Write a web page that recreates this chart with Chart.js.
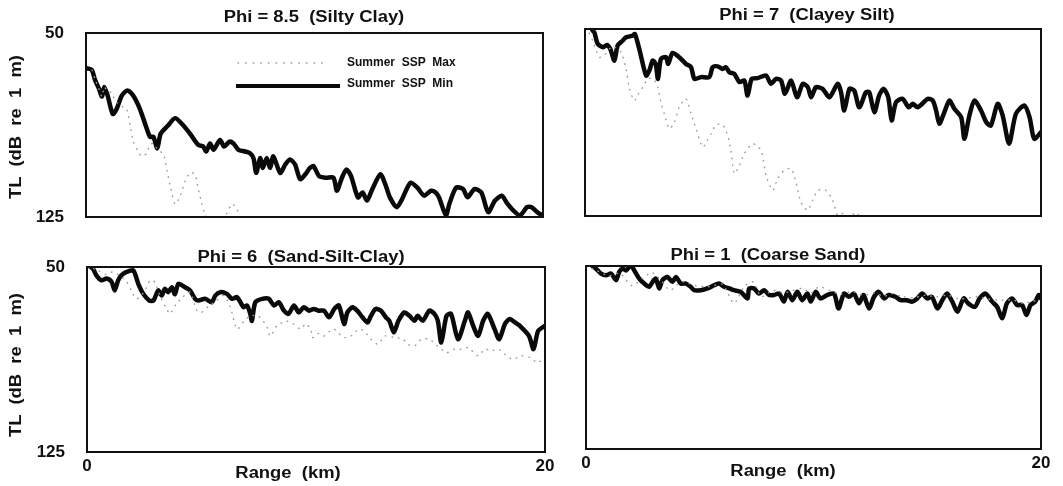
<!DOCTYPE html>
<html>
<head>
<meta charset="utf-8">
<script src="https://cdn.jsdelivr.net/npm/chart.js@4/dist/chart.umd.min.js"></script>
<style>
  body { margin: 0; background: #fff; }
  #page { position: relative; width: 1063px; height: 486px; overflow: hidden; background: #fff; }
  canvas { position: absolute; }
  .lbl {
    position: absolute; white-space: pre; color: #111;
    font: bold 16px "Liberation Sans", Arial, Helvetica, sans-serif;
    transform: translate(-50%, -50%) scaleX(1.15);
  }
  .rot { transform: translate(-50%, -50%) rotate(-90deg) scaleX(1.15); }
</style>
</head>
<body>
<div id="page">
  <canvas id="c1" width="555" height="232" style="left:0;top:0"></canvas>
  <canvas id="c2" width="503" height="232" style="left:560px;top:0"></canvas>
  <canvas id="c3" width="557" height="246" style="left:0;top:240px"></canvas>
  <canvas id="c4" width="503" height="246" style="left:560px;top:240px"></canvas>

  <div class="lbl" style="left:314px;top:17px">Phi = 8.5  (Silty Clay)</div>
  <div class="lbl" style="left:807px;top:15px">Phi = 7  (Clayey Silt)</div>
  <div class="lbl" style="left:301px;top:257px">Phi = 6  (Sand-Silt-Clay)</div>
  <div class="lbl" style="left:768px;top:255px">Phi = 1  (Coarse Sand)</div>
  <div class="lbl rot" style="left:16px;top:127px">TL  (dB  re  1  m)</div>
  <div class="lbl rot" style="left:16px;top:365px">TL  (dB  re  1  m)</div>
  <div class="lbl" style="left:288px;top:473px">Range  (km)</div>
  <div class="lbl" style="left:783px;top:471px">Range  (km)</div>
</div>
<script>
// axis limits and ticks
const rangeTicks = [0, 20];
const tlTicks = [50, 125];
const seriesNames = ["Summer  SSP  Max", "Summer  SSP  Min"];

// [range km, TL dB]
const phi85Max = [[0,64.3],[0.25,65],[0.4,69],[0.58,73],[0.7,75.9],[0.8,72],[0.95,74],[1.12,74.3],[1.27,77.6],[1.45,79],[1.64,80.3],[1.78,81],[1.93,87.6],[2.07,94.3],[2.29,98.3],[2.44,100.3],[2.66,99],[2.8,95.6],[2.95,95],[3.1,97],[3.4,99.7],[3.55,106.3],[3.7,113],[3.9,119.7],[4.1,117],[4.34,110.3],[4.55,107],[4.77,107.6],[4.9,113],[5.07,119.7],[5.2,123.6],[5.4,127],[5.7,131],[6.0,127],[6.16,123.6],[6.4,119.7],[6.6,121.7],[6.8,127],[7.1,133],[7.6,130],[8,135],[8.5,132],[9,138],[10,136],[11,140],[12,138],[13,142],[14,140],[15,144],[16,142],[17,146],[18,144],[19,147],[20,146]];
const phi85Min = [[0,64.3],[0.25,65],[0.39,69],[0.58,73],[0.7,75.9],[0.8,72],[0.95,75.6],[1.17,83],[1.34,81],[1.56,75.6],[1.81,73.4],[2.07,75.6],[2.36,81],[2.66,89],[2.8,92.3],[2.95,92.3],[3.12,97],[3.27,91],[3.6,87.6],[3.9,84.7],[4.19,87],[4.55,91],[4.91,95.6],[5.13,96.3],[5.26,98.3],[5.43,95],[5.58,97.6],[5.87,93.6],[6.04,96.3],[6.28,94.3],[6.45,95],[6.67,97.6],[6.96,98.3],[7.18,99],[7.33,101],[7.45,107],[7.62,101],[7.74,105],[7.91,101],[8.06,105],[8.2,100.3],[8.5,107],[8.72,103.6],[8.93,101.6],[9.15,103.6],[9.37,109.6],[9.6,107.6],[9.8,105],[9.96,104.3],[10.2,108.3],[10.5,109],[10.83,109],[10.98,114.3],[11.2,109],[11.4,105.6],[11.6,108.3],[11.9,117],[12.1,115],[12.3,118.3],[12.5,114.3],[12.88,107.6],[13.1,111.7],[13.3,117],[13.6,121],[13.8,118.3],[14.2,111],[14.5,113],[14.8,116.3],[15.1,114.3],[15.3,115],[15.45,117],[15.75,124.3],[15.9,119.7],[16.2,113],[16.5,113.6],[16.7,117],[17,113.6],[17.3,115],[17.6,123],[17.9,118.3],[18.2,116.3],[18.4,119],[18.7,122.3],[19,124.3],[19.3,121],[19.5,121],[19.8,123.4],[20,124.3]];

const phi7Max = [[0,44],[0.12,50],[0.35,55],[0.63,61.3],[0.9,60],[1.2,57],[1.58,59.3],[1.8,66],[1.94,73.4],[2.16,78.7],[2.35,76],[2.53,73.4],[2.75,70],[3,70],[3.19,73.4],[3.33,79.4],[3.48,84],[3.7,90],[3.92,87.4],[4.13,81.4],[4.43,78],[4.65,84],[4.87,90],[5.16,97.4],[5.35,95],[5.53,92],[5.75,88.4],[6.04,88.4],[6.26,92.7],[6.4,98.7],[6.55,108],[6.77,104.7],[6.99,100],[7.35,96],[7.72,98.7],[7.94,108.7],[8.23,114.7],[8.45,110],[8.74,106.7],[9.04,106],[9.25,111.4],[9.47,119.4],[9.77,122.7],[9.98,118.7],[10.23,114.7],[10.57,114.7],[10.86,118.7],[11.08,124.7],[11.3,124],[11.6,125.5],[11.9,123.4],[12,124.7],[12.3,128],[13,134],[14,132],[15,138],[16,136],[17,141],[18,139],[19,144],[20,142]];
const phi7Min = [[0,44],[0.1,46],[0.34,50.7],[0.41,51.3],[0.56,56],[0.8,57.3],[0.96,56.4],[1.11,58],[1.29,62.7],[1.43,56.7],[1.65,54.7],[1.8,53.3],[2.09,52.7],[2.19,52],[2.38,58],[2.68,68.7],[2.82,66.7],[2.97,62.7],[3.1,64],[3.2,70],[3.33,62],[3.55,61.3],[3.65,64],[3.84,59.6],[4.13,61.3],[4.43,64],[4.65,65.3],[4.8,70],[5.09,69.3],[5.45,69.3],[5.6,65.3],[5.82,65],[6.04,66],[6.18,65.3],[6.33,67.3],[6.55,68],[6.77,71.3],[6.99,70.7],[7.13,76.7],[7.31,70],[7.57,69.7],[7.94,68.7],[8.16,72],[8.38,70],[8.6,70.7],[8.77,76],[9.04,70.7],[9.3,77.4],[9.55,72],[9.77,73.3],[9.92,77.4],[10.13,73.3],[10.42,74],[10.72,77.4],[11.08,72],[11.23,75.4],[11.37,82.7],[11.6,74],[11.81,74.7],[12.03,81.4],[12.32,75.4],[12.47,75.4],[12.69,83.4],[12.9,76.7],[13.1,74],[13.3,77.4],[13.45,86.7],[13.64,79.4],[13.93,78],[14.2,81.4],[14.37,80],[14.6,81.4],[15.04,78],[15.25,78.7],[15.4,82.7],[15.54,88],[15.76,83.4],[15.98,78.7],[16.2,82],[16.5,85.4],[16.64,94],[16.86,84.7],[17.08,78.7],[17.37,82.7],[17.6,87.4],[17.8,88.7],[18.1,80],[18.32,84.7],[18.6,96],[18.9,84],[19.27,80.7],[19.5,85.4],[19.7,94],[20,91.4]];

const phi6Max = [[0,50],[0.4,51],[0.8,53],[1.14,52],[1.5,54],[1.73,56],[1.94,59.5],[2.16,62.9],[2.5,60],[2.75,55.4],[2.95,56],[3.2,62],[3.48,67],[3.62,69],[3.9,65],[4.2,62],[4.5,60.2],[4.8,67.7],[5,68.4],[5.3,66],[5.6,64],[5.97,61.6],[6.25,66],[6.55,75.2],[6.85,72],[7.13,69.8],[7.5,70],[7.87,74.5],[8,78],[8.3,73.8],[8.7,72],[9,73],[9.33,75.2],[9.55,73],[9.77,75.2],[9.84,78.6],[10.1,77],[10.35,78],[10.6,76],[10.8,75.2],[11,77],[11.23,78.6],[11.52,78],[11.75,76],[11.96,75.2],[12.2,77],[12.4,79.3],[12.7,81.3],[13,78],[13.4,78.5],[13.8,79.3],[14,81.3],[14.3,82],[14.6,79.3],[14.95,79.3],[15.3,82],[15.7,84.7],[16.05,83.3],[16.35,83.3],[16.64,82.7],[17.08,86],[17.37,83.3],[17.66,84],[17.95,83.3],[18.25,85.4],[18.6,87.4],[18.98,86],[19.34,86.7],[19.7,88.8],[20,86]];
const phi6Min = [[0,49],[0.26,50.7],[0.41,53.4],[0.63,55.4],[0.85,54.7],[1.07,56],[1.21,59.5],[1.36,55.4],[1.5,53.4],[1.73,52],[2.02,51.4],[2.24,56.8],[2.46,60.9],[2.72,63.6],[2.9,63.6],[3.11,59.5],[3.26,61.6],[3.4,58.8],[3.55,60.2],[3.7,58.2],[3.84,61],[3.99,56.8],[4.28,58.2],[4.5,59.5],[4.72,62.9],[4.87,63.6],[5.16,62.9],[5.45,64.3],[5.6,61.6],[5.82,60.2],[6.11,60.9],[6.33,62.9],[6.55,62.2],[6.7,64.3],[6.84,66.3],[6.99,65.6],[7.13,69],[7.2,71.8],[7.35,64.3],[7.65,62.9],[7.94,62.9],[8.16,65.6],[8.38,64.3],[8.6,67.7],[8.8,69],[9.04,65.6],[9.25,68.4],[9.47,66.3],[9.7,67.7],[9.9,67],[10.13,67.7],[10.35,67.7],[10.57,70.4],[10.8,67],[11,65.6],[11.23,73.1],[11.37,68.4],[11.6,66.3],[11.8,67.7],[12.03,70.4],[12.25,72.5],[12.4,69.8],[12.6,67],[12.84,67.7],[13.05,70.4],[13.2,71.8],[13.4,76.5],[13.6,71.8],[13.86,68.4],[14.08,69.8],[14.3,71.8],[14.44,69.8],[14.66,71.8],[14.95,67.7],[15.17,69],[15.32,71.8],[15.47,80.6],[15.7,69.8],[15.9,69],[16.2,79.3],[16.5,71.8],[16.64,68.4],[16.86,73.8],[17.08,77.9],[17.3,71.8],[17.5,69],[17.8,75.2],[18,79.3],[18.25,73.1],[18.46,71.1],[18.7,72.5],[18.9,73.8],[19.3,77.9],[19.5,83.3],[19.7,75.9],[20,73.8]];

const phi1Max = [[0,50],[0.5,52],[1,54],[1.5,53],[2,58],[2.5,55],[2.9,52.7],[3.3,56],[3.7,59.9],[4.2,56.5],[4.8,58],[5.4,58.5],[6,57.5],[6.5,65.3],[6.95,58.5],[7.35,56.5],[7.7,62.6],[8.2,60],[8.7,61],[9.1,60],[9.5,59.2],[9.9,61],[10.25,58.5],[10.7,60],[11.2,61.5],[11.7,60.5],[12.2,62],[12.7,61],[13.1,62.5],[13.4,61.3],[13.9,62.5],[14.4,63],[14.9,62],[15.4,62.6],[15.9,62],[16.4,63.5],[16.9,63],[17.2,62.6],[17.7,63.5],[18.2,64],[18.8,64],[19.2,65.3],[19.6,64.5],[20,64]];
const phi1Min = [[0,48],[0.44,51.1],[0.66,53.1],[0.88,53.8],[1.1,53.1],[1.32,55.8],[1.46,52.4],[1.61,51.1],[1.76,51.8],[1.98,49.7],[2.12,51.8],[2.34,55.2],[2.56,57.2],[2.78,58.5],[2.93,56.5],[3.07,55.2],[3.22,59.2],[3.36,55.8],[3.58,54.5],[3.8,56.5],[3.95,54.5],[4.17,57.2],[4.39,57.2],[4.6,58.5],[4.75,59.9],[5.05,59.9],[5.34,59.2],[5.63,57.9],[5.85,57.2],[6.07,58.5],[6.3,59.2],[6.5,59.9],[6.8,60.6],[7.1,63.3],[7.17,59.2],[7.39,59.2],[7.6,61.3],[7.83,59.9],[8.05,61.9],[8.27,61.9],[8.49,61.3],[8.7,64.6],[8.86,60.6],[9.07,64],[9.29,60.6],[9.5,64],[9.73,61.3],[9.88,64.6],[10.1,60.6],[10.3,63.3],[10.6,61.9],[10.9,61.3],[11.1,67.4],[11.34,61.3],[11.56,62.6],[11.78,61.3],[12,65.3],[12.2,61.9],[12.44,67.4],[12.66,62.6],[12.87,60.6],[13.1,63.3],[13.3,61.9],[13.6,62.6],[13.83,64],[14.1,64],[14.34,64.6],[14.56,63.3],[14.78,61.3],[15,63.3],[15.2,62.6],[15.45,67.4],[15.66,64],[15.87,61.3],[16.1,64.6],[16.33,68.7],[16.6,63.3],[16.8,65.3],[17.1,66.7],[17.3,63.3],[17.56,61.3],[17.85,64.6],[18.07,66.7],[18.3,71.4],[18.5,65.3],[18.73,63.3],[18.95,66],[19.17,66],[19.36,70.1],[19.54,66],[19.75,64.6],[19.9,61.9],[20,63.3]];

const FONT = '"Liberation Sans", Arial, Helvetica, sans-serif';
const MAX_STYLE = { borderColor: '#9a9a9a', borderWidth: 1.4, borderDash: [0.6, 6], borderCapStyle: 'round' };
const MIN_STYLE = { borderColor: '#0a0a0a', borderWidth: 4.5, borderJoinStyle: 'round', borderCapStyle: 'round' };

const toPts = arr => arr.map(p => ({ x: p[0], y: p[1] }));

// box round the plot area
const framePlugin = {
  id: 'frame',
  afterDatasetsDraw(chart) {
    const { ctx, chartArea: a } = chart;
    ctx.save();
    ctx.strokeStyle = '#111';
    ctx.lineWidth = 2;
    ctx.strokeRect(a.left, a.top, a.right - a.left, a.bottom - a.top);
    ctx.restore();
  }
};

// legend sitting inside the first panel
const insideLegend = {
  id: 'insideLegend',
  afterDraw(chart) {
    const { ctx, chartArea: a } = chart;
    const x0 = a.left + 150, x1 = a.left + 248, tx = a.left + 261;
    const y0 = a.top + 30, y1 = a.top + 53;
    ctx.save();
    ctx.strokeStyle = MAX_STYLE.borderColor;
    ctx.lineWidth = 1.4;
    ctx.lineCap = 'round';
    ctx.setLineDash([0.6, 7]);
    ctx.beginPath(); ctx.moveTo(x0 + 2, y0); ctx.lineTo(x1 - 6, y0); ctx.stroke();
    ctx.setLineDash([]);
    ctx.strokeStyle = '#0a0a0a';
    ctx.lineWidth = 4;
    ctx.lineCap = 'butt';
    ctx.beginPath(); ctx.moveTo(x0, y1); ctx.lineTo(x1 + 6, y1); ctx.stroke();
    ctx.fillStyle = '#111';
    ctx.font = 'bold 12px ' + FONT;
    ctx.textBaseline = 'middle';
    ctx.fillText(seriesNames[0], tx, y0);
    ctx.fillText(seriesNames[1], tx, y1 - 2);
    ctx.restore();
  }
};

function makePanel(id, maxData, minData, o) {
  const plugins = [framePlugin];
  if (o.legend) plugins.push(insideLegend);
  return new Chart(document.getElementById(id), {
    type: 'line',
    data: {
      datasets: [
        Object.assign({ label: seriesNames[0], data: toPts(maxData), tension: 0.25 }, MAX_STYLE),
        Object.assign({ label: seriesNames[1], data: toPts(minData), tension: 0.25 }, MIN_STYLE)
      ]
    },
    options: {
      responsive: false,
      animation: false,
      events: [],
      layout: { padding: { top: o.top, right: o.right, left: 0, bottom: 0 } },
      elements: { point: { radius: 0 } },
      plugins: { legend: { display: false }, tooltip: { enabled: false } },
      scales: {
        x: {
          type: 'linear', min: 0, max: 20,
          border: { display: false },
          grid: { display: false, drawTicks: false },
          afterBuildTicks: s => { s.ticks = rangeTicks.map(v => ({ value: v })); },
          afterFit: s => { s.height = o.xh; s.paddingLeft = 0; s.paddingRight = 0; },
          ticks: { display: o.xTicks, padding: 4, color: '#111', font: { family: FONT, size: 17, weight: 'bold' } }
        },
        y: {
          type: 'linear', min: 50, max: 125, reverse: true,
          border: { display: false },
          grid: { display: false, drawTicks: false },
          afterBuildTicks: s => { s.ticks = tlTicks.map(v => ({ value: v })); },
          afterFit: s => { s.width = o.yw; s.paddingTop = 0; s.paddingBottom = 0; },
          ticks: { display: o.yTicks, padding: 22, color: '#111', font: { family: FONT, size: 17, weight: 'bold' } }
        }
      }
    },
    plugins: plugins
  });
}

makePanel('c1', phi85Max, phi85Min, { top: 33, right: 12, yw: 86, xh: 15, xTicks: false, yTicks: true, legend: true });
makePanel('c2', phi7Max, phi7Min, { top: 29, right: 22, yw: 25, xh: 16, xTicks: false, yTicks: false });
makePanel('c3', phi6Max, phi6Min, { top: 27, right: 12, yw: 87, xh: 34, xTicks: true, yTicks: true });
makePanel('c4', phi1Max, phi1Min, { top: 26, right: 22, yw: 26, xh: 37, xTicks: true, yTicks: false });
</script>
</body>
</html>
